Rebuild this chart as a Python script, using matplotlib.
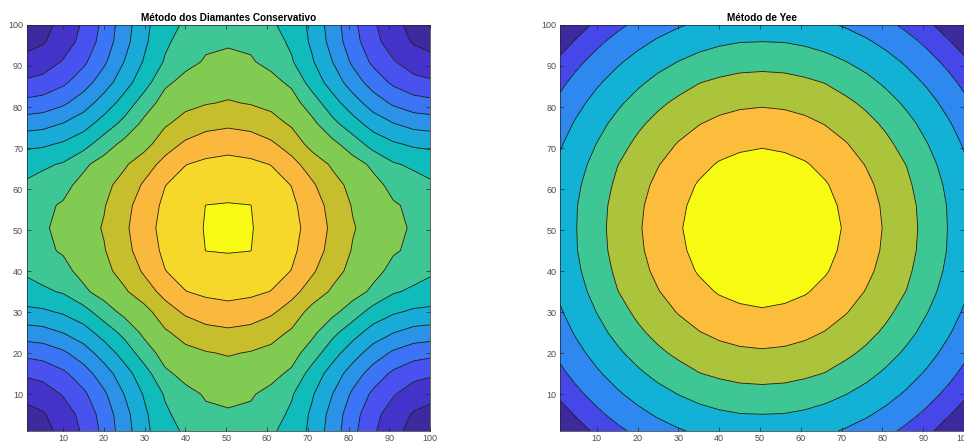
import numpy as np
import matplotlib.pyplot as plt

# grid nodes of the lower-left quarter; the other three quarters are mirror images
quarter_nodes = [1, 5, 10, 15, 20, 25, 30, 35, 40, 45, 50.5]

# field values, in contour-level units (rows = y, cols = x)
diamantes_quarter = [
    [0.20, 0.66, 1.32, 2.15, 3.28, 4.55, 5.73, 6.72, 7.11, 7.27, 7.41],
    [0.66, 0.90, 1.50, 2.33, 3.41, 4.65, 5.83, 6.83, 7.39, 7.85, 7.90],
    [1.32, 1.50, 2.08, 2.81, 3.83, 5.02, 6.12, 7.10, 7.76, 8.08, 8.21],
    [2.15, 2.33, 2.81, 3.57, 4.52, 5.59, 6.60, 7.83, 8.27, 8.50, 8.63],
    [3.28, 3.41, 3.83, 4.52, 5.45, 6.39, 7.52, 8.39, 8.74, 8.94, 9.07],
    [4.55, 4.65, 5.02, 5.59, 6.39, 7.29, 8.25, 8.87, 9.35, 9.66, 9.80],
    [5.73, 5.83, 6.12, 6.60, 7.52, 8.25, 8.67, 9.56, 10.15, 10.52, 10.68],
    [6.72, 6.83, 7.10, 7.83, 8.39, 8.87, 9.56, 10.32, 10.98, 11.19, 11.27],
    [7.11, 7.39, 7.76, 8.27, 8.74, 9.35, 10.15, 10.98, 11.34, 11.59, 11.67],
    [7.27, 7.85, 8.08, 8.50, 8.94, 9.66, 10.52, 11.19, 11.59, 12.01, 12.05],
    [7.41, 7.90, 8.21, 8.63, 9.07, 9.80, 10.68, 11.27, 11.67, 12.05, 12.35],
]

yee_quarter = [
    [0.30, 0.67, 1.15, 1.77, 2.24, 2.61, 2.91, 3.15, 3.32, 3.43, 3.47],
    [0.67, 1.07, 1.77, 2.31, 2.74, 3.11, 3.41, 3.66, 3.84, 3.96, 3.99],
    [1.15, 1.77, 2.37, 2.87, 3.31, 3.69, 4.02, 4.30, 4.52, 4.66, 4.71],
    [1.77, 2.31, 2.87, 3.37, 3.83, 4.26, 4.64, 4.97, 5.16, 5.29, 5.33],
    [2.24, 2.74, 3.31, 3.83, 4.34, 4.82, 5.19, 5.48, 5.69, 5.83, 5.89],
    [2.61, 3.11, 3.69, 4.26, 4.82, 5.27, 5.64, 5.96, 6.20, 6.35, 6.41],
    [2.91, 3.41, 4.02, 4.64, 5.19, 5.64, 6.05, 6.39, 6.67, 6.85, 6.93],
    [3.15, 3.66, 4.30, 4.97, 5.48, 5.96, 6.39, 6.78, 7.07, 7.21, 7.26],
    [3.32, 3.84, 4.52, 5.16, 5.69, 6.20, 6.67, 7.07, 7.30, 7.49, 7.57],
    [3.43, 3.96, 4.66, 5.29, 5.83, 6.35, 6.85, 7.21, 7.49, 7.64, 7.69],
    [3.47, 3.99, 4.71, 5.33, 5.89, 6.41, 6.93, 7.26, 7.57, 7.69, 7.80],
]

titles = ['Método dos Diamantes Conservativo', 'Método de Yee']

# parula-like band colours, lowest band first
diamantes_colors = ['#3d2a9c', '#4433c8', '#4952ee', '#3b74f5', '#2a93e8', '#1aaad8',
                    '#0fbbbb', '#3ec795', '#82cb53', '#c6be2d', '#fbb83e', '#f5d82a', '#f8f914']
yee_colors = ['#3d2a9c', '#4647e8', '#2e88f0', '#14b1d6', '#3ec794', '#abc43c', '#fdbd3c', '#f8fa14']


def mirror(q):
    q = np.array(q)
    half = np.hstack([q, q[:, -2::-1]])
    return np.vstack([half, half[-2::-1, :]])


nodes = np.array(quarter_nodes + [101 - v for v in quarter_nodes[-2::-1]])

plt.rcParams['font.family'] = ['Liberation Sans', 'DejaVu Sans']
fig = plt.figure(figsize=(9.64, 4.43), dpi=100)
ax1 = fig.add_axes([0.0275, 0.0271, 0.4186, 0.9165])
ax2 = fig.add_axes([0.581, 0.0271, 0.419, 0.9165])

for ax, quarter, cols, title in [(ax1, diamantes_quarter, diamantes_colors, titles[0]),
                                 (ax2, yee_quarter, yee_colors, titles[1])]:
    z = mirror(quarter)
    levels = np.arange(len(cols) + 1)
    ax.contourf(nodes, nodes, z, levels=levels, colors=cols)
    ax.contour(nodes, nodes, z, levels=levels[1:-1], colors='#1a1a1a', linewidths=0.6)
    ax.set_xlim(1, 100)
    ax.set_ylim(1, 100)
    ax.set_xticks(range(10, 101, 10))
    ax.set_yticks(range(10, 101, 10))
    ax.tick_params(direction='in', top=True, right=True, length=3, width=0.5,
                   labelsize=6.5, color='#262626', labelcolor='#4d4d4d', pad=2.5)
    ax.set_title(title, fontsize=7.2, fontweight='bold', pad=3)
    for s in ax.spines.values():
        s.set_linewidth(0.5)
        s.set_color('#262626')

fig.savefig('out.png', dpi=100)
